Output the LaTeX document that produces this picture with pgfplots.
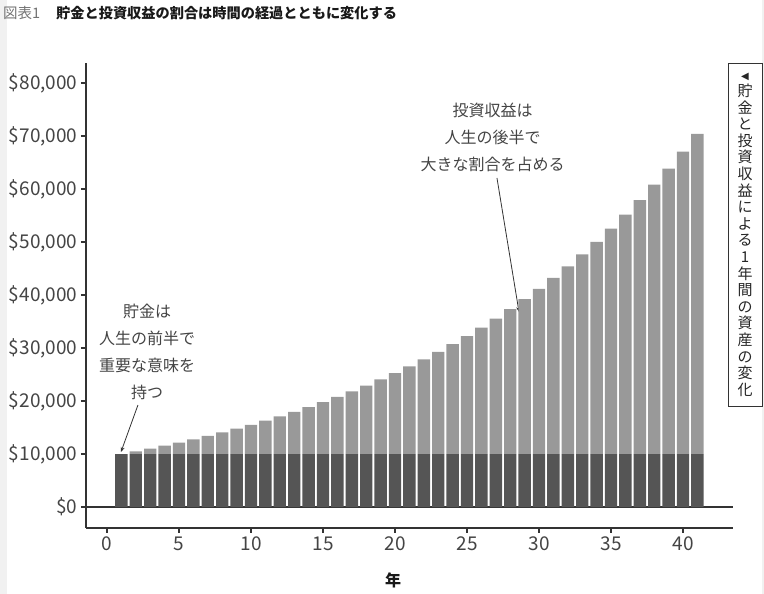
\documentclass[border=0pt]{standalone}
\usepackage{fontspec}
\setmainfont{Noto Sans CJK JP}
\newfontfamily\dejavu{DejaVu Sans}
\usepackage{pgfplots}
\usepackage{pgfplotstable}
\pgfplotsset{compat=1.18}
\usetikzlibrary{arrows.meta}
\definecolor{darkbar}{HTML}{555555}
\definecolor{lightbar}{HTML}{999999}
\definecolor{axisgray}{HTML}{333333}
\definecolor{labelgray}{HTML}{444444}
\definecolor{edgegray}{HTML}{F1F1F1}

\pgfplotstableread{
year saving gain
1 10000 0
2 10000 500
3 10000 1025
4 10000 1576
5 10000 2155
6 10000 2763
7 10000 3401
8 10000 4071
9 10000 4775
10 10000 5513
11 10000 6289
12 10000 7103
13 10000 7959
14 10000 8856
15 10000 9799
16 10000 10789
17 10000 11829
18 10000 12920
19 10000 14066
20 10000 15270
21 10000 16533
22 10000 17860
23 10000 19253
24 10000 20715
25 10000 22251
26 10000 23864
27 10000 25557
28 10000 27335
29 10000 29201
30 10000 31161
31 10000 33219
32 10000 35380
33 10000 37649
34 10000 40032
35 10000 42533
36 10000 45160
37 10000 47918
38 10000 50814
39 10000 53855
40 10000 57048
41 10000 60400
}\datatable

\begin{document}
\begin{tikzpicture}
\path[use as bounding box] (0pt,0pt) rectangle (764pt,594pt);
\fill[edgegray] (0pt,0pt) rectangle (7pt,594pt);
\fill[edgegray] (762pt,0pt) rectangle (764pt,594pt);
\begin{axis}[
  at={(86pt,66pt)}, anchor=south west,
  scale only axis, width=647pt, height=465pt,
  xmin=-1.458, xmax=43.47, ymin=-3960, ymax=83770,
  axis x line*=bottom, axis y line*=left,
  axis line style={line width=1.6pt, color=axisgray, -},
  major tick style={line width=1.2pt, color=axisgray},
  major tick length=5pt, tick align=outside,
  scaled y ticks=false, scaled x ticks=false,
  ytick={0,10000,20000,30000,40000,50000,60000,70000,80000},
  yticklabels={{\$0},{\$10,000},{\$20,000},{\$30,000},{\$40,000},{\$50,000},{\$60,000},{\$70,000},{\$80,000}},
  xtick={0,5,10,15,20,25,30,35,40},
  xticklabels={0,5,10,15,20,25,30,35,40},
  tick label style={font=\fontsize{19pt}{19pt}\selectfont, text=labelgray},
  ybar stacked, bar width=0.86,
  clip=false,
]
\addplot[fill=darkbar, draw=none] table[x=year, y=saving] {\datatable};
\addplot[fill=lightbar, draw=none] table[x=year, y=gain] {\datatable};
\draw[line width=1.6pt, axisgray] (axis cs:-1.458,0) -- (axis cs:43.47,0);
\node[align=center, font=\fontsize{16pt}{27pt}\selectfont, text=labelgray] at (axis cs:2.78,29245) {貯金は\\人生の前半で\\重要な意味を\\持つ};
\node[align=center, font=\fontsize{16pt}{27pt}\selectfont, text=labelgray] at (axis cs:26.77,69811) {投資収益は\\人生の後半で\\大きな割合を占める};
\draw[-{Stealth[length=5pt,width=4pt]}, line width=0.8pt, black!80] (axis cs:2.15,19245) -- (axis cs:0.97,10377);
\draw[-{Stealth[length=5pt,width=4pt]}, line width=0.8pt, black!80] (axis cs:27.08,62075) -- (axis cs:28.61,36792);
\end{axis}
\draw[axisgray, line width=0.8pt] (728pt,531pt) rectangle (762pt,188pt);
\node[align=center, inner sep=0pt, font=\fontsize{15pt}{16.6pt}\selectfont, text=black!85] at (745pt,359pt) {{\dejavu\fontsize{10pt}{10pt}\selectfont ◀}\\貯\\金\\と\\投\\資\\収\\益\\に\\よ\\る\\1\\年\\間\\の\\資\\産\\の\\変\\化};
\node[anchor=west, inner sep=0pt] at (3pt,581pt) {{\color{black!55}\fontsize{14.5pt}{14.5pt}\selectfont 図表1}\hspace{16pt}{\bfseries\fontsize{14.2pt}{14.2pt}\selectfont\color{black!90}貯金と投資収益の割合は時間の経過とともに変化する}};
\node[font=\bfseries\fontsize{16pt}{16pt}\selectfont, text=black!90] at (393pt,14pt) {年};
\end{tikzpicture}
\end{document}
